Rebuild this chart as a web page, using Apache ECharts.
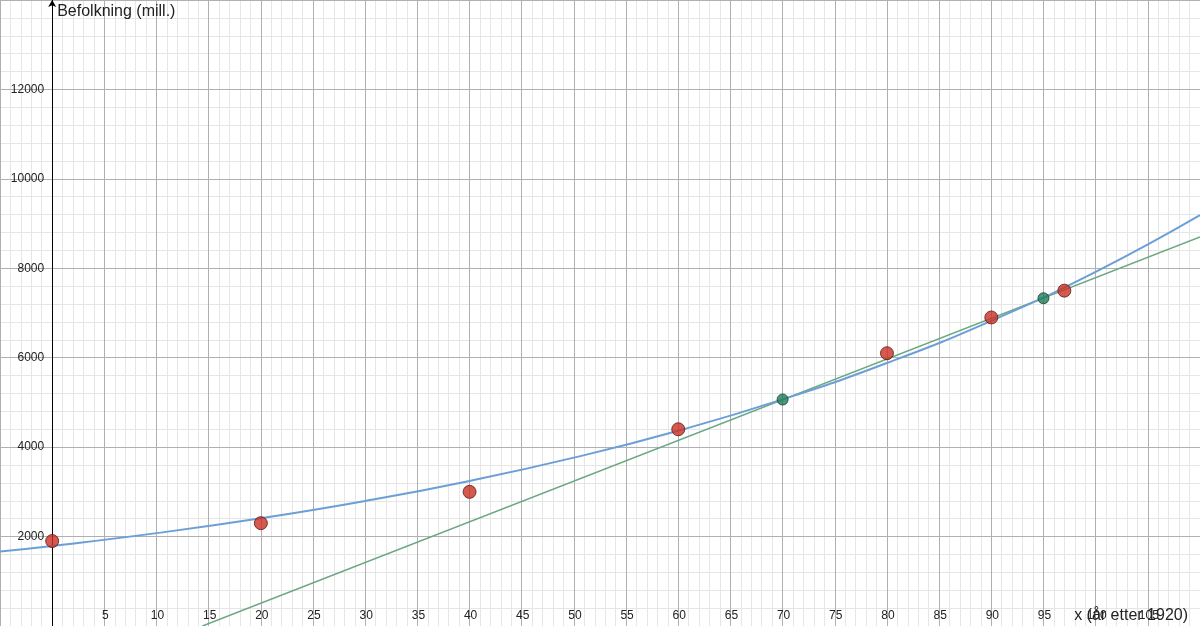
<!DOCTYPE html>
<html>
<head>
<meta charset="utf-8">
<script src="https://cdn.jsdelivr.net/npm/echarts@6/dist/echarts.min.js"></script>
<style>html,body{margin:0;padding:0;background:#fff;}#c{width:1200px;height:626px;}</style>
</head>
<body>
<div id="c"></div>
<script>
// Observed population data (x = years after 1920, y = millions)
const dataX = [0, 20, 40, 60, 80, 90, 97];
const dataY = [1900, 2300, 3000, 4400, 6100, 6900, 7500];
// Fitted curve, values
const curveX = [-5, 0, 10, 20, 30, 40, 50, 60, 70, 80, 90, 100, 110];
const curveY = [1665, 1790, 2077, 2410, 2796, 3245, 3765, 4368, 5069, 5882, 6825, 7919, 9188];
// Secant line through the two green points, endpoints
const lineX = [14.4, 110];
const lineY = [0, 8700];
// Green points
const markX = [70, 95];
const markY = [5065, 7330];

const xName = 'x (år etter 1920)';
const yName = 'Befolkning (mill.)';

const zip = (a, b) => a.map((v, i) => [v, b[i]]);
const FONT = 'Liberation Sans, Arial, Helvetica, sans-serif';
const X_MIN = -5, X_MAX = 110, Y_MIN = 0, Y_MAX = 14000, W = 1200;

const minorLine = { show: true, lineStyle: { color: '#e6e6e6', width: 1, type: 'solid' } };
const majorLine = { show: true, lineStyle: { color: '#b0b0b0', width: 1, type: 'solid' } };

const chart = echarts.init(document.getElementById('c'));
chart.setOption({
  animation: false,
  backgroundColor: '#ffffff',
  grid: { left: 0, right: 0, top: 0, bottom: 0, containLabel: false, outerBoundsMode: 'none' },
  graphic: [{
    type: 'text', right: 12, bottom: 2, z: 100,
    style: { text: xName, fontSize: 16, fill: '#222', fontFamily: FONT }
  }],
  xAxis: [{
    type: 'value', min: X_MIN, max: X_MAX, interval: 5, z: 1,
    axisLine: { show: false },
    axisTick: { show: false },
    axisLabel: {
      inside: true, margin: 4, fontSize: 12, color: '#222', fontFamily: FONT,
      padding: [0, 0, 0, 2],
      formatter: v => (v <= 0 || v >= 110) ? '' : String(v)
    },
    splitLine: majorLine
  }, {
    type: 'value', min: X_MIN, max: X_MAX, interval: 1, z: 0,
    axisLine: { show: false }, axisTick: { show: false }, axisLabel: { show: false },
    splitLine: minorLine
  }],
  yAxis: [{
    type: 'value', min: Y_MIN, max: Y_MAX, interval: 2000, z: 1,
    offset: -(0 - X_MIN) / (X_MAX - X_MIN) * W,
    name: yName, nameLocation: 'end', nameGap: -4,
    nameTextStyle: { align: 'left', verticalAlign: 'top', fontSize: 16, color: '#222', fontFamily: FONT, padding: [0, 0, 0, 5] },
    axisLine: { show: true, onZero: false, lineStyle: { color: '#000', width: 1 }, symbol: ['none', 'arrow'], symbolSize: [6, 7] },
    axisTick: { show: false },
    axisLabel: {
      margin: 8, fontSize: 12, color: '#222', fontFamily: FONT,
      formatter: v => (v <= 0 || v >= 14000) ? '' : String(v)
    },
    splitLine: majorLine
  }, {
    type: 'value', min: Y_MIN, max: Y_MAX, interval: 400, z: 0,
    axisLine: { show: false }, axisTick: { show: false }, axisLabel: { show: false },
    splitLine: minorLine
  }],
  series: [
    {
      type: 'line', data: zip(lineX, lineY), showSymbol: false, symbol: 'none',
      lineStyle: { color: '#6aa882', width: 1.5 }, z: 2, clip: true
    },
    {
      type: 'line', data: zip(curveX, curveY), smooth: true, showSymbol: false, symbol: 'none',
      lineStyle: { color: '#6b9fd6', width: 2 }, z: 3, clip: true
    },
    {
      type: 'scatter', data: zip(markX, markY), symbolSize: 11,
      itemStyle: { color: '#1f7d5a', borderColor: '#153d2c', borderWidth: 1 }, z: 5
    },
    {
      type: 'scatter', data: zip(dataX, dataY), symbolSize: 13,
      itemStyle: { color: '#cc3024', borderColor: '#5a1a14', borderWidth: 1 }, z: 6
    }
  ]
});
</script>
</body>
</html>
